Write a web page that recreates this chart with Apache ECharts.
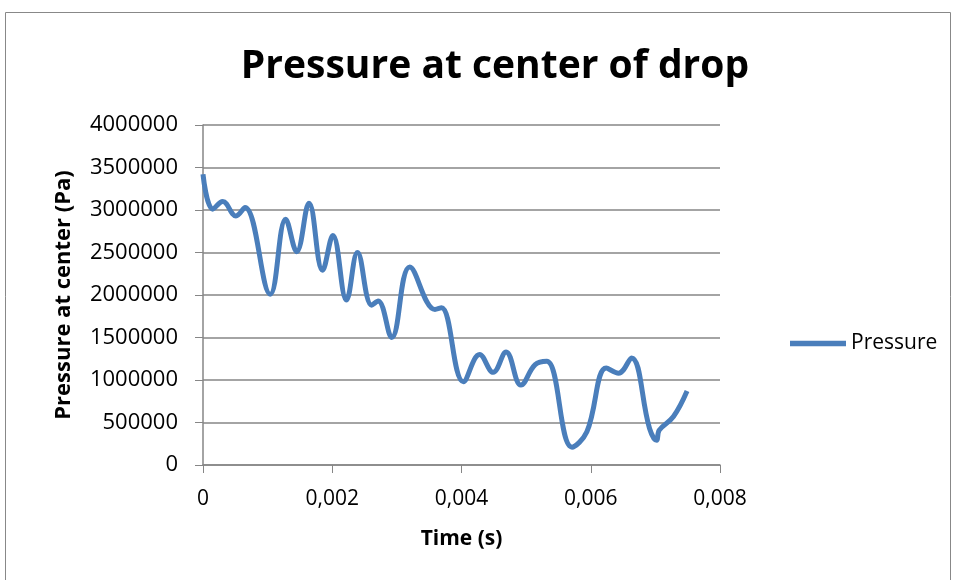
<!DOCTYPE html>
<html><head><meta charset="utf-8">
<script src="https://cdn.jsdelivr.net/npm/echarts@6/dist/echarts.min.js"></script>
<style>html,body{margin:0;padding:0;background:#fff}#c{width:959px;height:580px}</style>
</head><body><div id="c"></div>
<script>
const timeValues = [0, 0.00015, 0.000305, 0.00051, 0.00065, 0.00104, 0.00128, 0.00145, 0.00164, 0.00185, 0.00201, 0.00222, 0.00239, 0.00261, 0.00271, 0.00292, 0.0032, 0.00359, 0.00369, 0.00403, 0.00428, 0.00449, 0.00469, 0.00492, 0.00514, 0.00532, 0.00571, 0.00594, 0.00624, 0.00643, 0.00663, 0.00691, 0.00702, 0.00706, 0.00728, 0.00749];
const pressureValues = [3420000, 3010000, 3100000, 2930000, 3030000, 2010000, 2890000, 2510000, 3080000, 2290000, 2700000, 1940000, 2500000, 1880000, 1930000, 1500000, 2330000, 1830000, 1850000, 980000, 1300000, 1090000, 1330000, 940000, 1180000, 1220000, 210000, 390000, 1140000, 1080000, 1260000, 430000, 290000, 410000, 570000, 870000];
const xTicks = [0, 0.002, 0.004, 0.006, 0.008];
const yTicks = [0, 500000, 1000000, 1500000, 2000000, 2500000, 3000000, 3500000, 4000000];

const chart = echarts.init(document.getElementById('c'), null, {renderer: 'canvas'});
const font = '"Open Sans", "Liberation Sans", sans-serif';
const data = timeValues.map((t, i) => [t, pressureValues[i]]);
chart.setOption({
  animation: false,
  backgroundColor: '#fff',
  graphic: [{type: 'rect', shape: {x: 5.5, y: 12.5, width: 945, height: 580}, style: {fill: 'none', stroke: '#888', lineWidth: 1}, silent: true}],
  title: {text: 'Pressure at center of drop', left: 490, top: 42, textAlign: 'center',
    textStyle: {fontFamily: font, fontWeight: 'bold', fontSize: 39, color: '#000'}},
  legend: {left: 785, top: 328, itemWidth: 56, itemHeight: 14, itemGap: 4,
    textStyle: {fontFamily: font, fontSize: 21, color: '#000'},
    data: [{name: 'Pressure', icon: 'path://M0,0 L10,0 L10,1 L0,1 Z'}]},
  grid: {left: 203, right: 239, top: 125, bottom: 115},
  xAxis: {type: 'value', min: xTicks[0], max: xTicks[xTicks.length - 1], interval: 0.002,
    name: 'Time (s)', nameLocation: 'middle', nameGap: 64,
    nameTextStyle: {fontFamily: font, fontWeight: 'bold', fontSize: 21, color: '#000'},
    axisLine: {show: true, lineStyle: {color: '#868686', width: 1.5}},
    axisTick: {show: true, length: 8, lineStyle: {color: '#868686'}},
    axisLabel: {margin: 24, fontFamily: font, fontSize: 21, color: '#000',
      formatter: v => v === 0 ? '0' : v.toFixed(3).replace('.', ',')},
    splitLine: {show: false}},
  yAxis: {type: 'value', min: yTicks[0], max: yTicks[yTicks.length - 1], interval: 500000,
    name: 'Pressure at center (Pa)', nameLocation: 'middle', nameGap: 128, nameRotate: 90,
    nameTextStyle: {fontFamily: font, fontWeight: 'bold', fontSize: 22, color: '#000'},
    axisLine: {show: true, lineStyle: {color: '#868686', width: 1.5}},
    axisTick: {show: true, length: 8, lineStyle: {color: '#868686'}},
    axisLabel: {margin: 25, fontFamily: font, fontSize: 22, color: '#000',
      formatter: v => String(v)},
    splitLine: {show: true, lineStyle: {color: '#868686', width: 1.5}}},
  series: [{name: 'Pressure', type: 'line', data: data, smooth: 0.4, symbol: 'none',
    lineStyle: {color: '#4a7ebb', width: 5}, itemStyle: {color: '#4a7ebb'}}]
});
</script></body></html>
